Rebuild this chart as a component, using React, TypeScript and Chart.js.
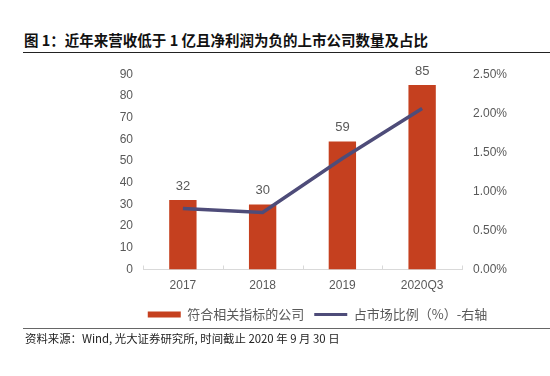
import React, { useEffect, useRef } from "react";
import { Chart, registerables } from "chart.js";

Chart.register(...registerables);

const categories = ["2017", "2018", "2019", "2020Q3"];
const companyCounts = [32, 30, 59, 85];
const marketShare = [0.78, 0.73, 1.42, 2.06];

const seriesNames = ["符合相关指标的公司", "占市场比例（%）-右轴"];
const titleText = "图 1：近年来营收低于 1 亿且净利润为负的上市公司数量及占比";
const sourceText = "资料来源：Wind, 光大证券研究所, 时间截止 2020 年 9 月 30 日";

const BAR_COLOR = "#C5401F";
const LINE_COLOR = "#4E4C79";
const TEXT_GRAY = "#595959";
const AXIS_GRAY = "#D9D9D9";
const FONT = '"Liberation Sans", Arial, "Noto Sans CJK SC", sans-serif';
const CJK_FONT = '"Noto Sans CJK SC", "Liberation Sans", sans-serif';

const dataLabelPlugin = {
  id: "dataLabels",
  afterDatasetsDraw(chart: any) {
    const meta = chart.getDatasetMeta(0);
    const ctx = chart.ctx;
    ctx.save();
    ctx.font = `13px ${FONT}`;
    ctx.fillStyle = TEXT_GRAY;
    ctx.textAlign = "center";
    ctx.textBaseline = "middle";
    meta.data.forEach((bar: any, i: number) => {
      ctx.fillText(String(companyCounts[i]), bar.x, bar.y - 14);
    });
    ctx.restore();
  },
};

const axisTickPlugin = {
  id: "axisTicks",
  afterDraw(chart: any) {
    const xs = chart.scales.x;
    const area = chart.chartArea;
    const ctx = chart.ctx;
    const centers = categories.map((_, i) => xs.getPixelForValue(i));
    const bounds = [area.left];
    for (let i = 0; i < centers.length - 1; i++) bounds.push((centers[i] + centers[i + 1]) / 2);
    bounds.push(area.right);
    ctx.save();
    ctx.strokeStyle = AXIS_GRAY;
    ctx.lineWidth = 1;
    bounds.forEach((bx) => {
      const x = Math.round(bx) + 0.5;
      ctx.beginPath();
      ctx.moveTo(x, area.bottom - 4);
      ctx.lineTo(x, area.bottom);
      ctx.stroke();
    });
    ctx.restore();
  },
};

function ChartCanvas() {
  const ref = useRef<HTMLCanvasElement | null>(null);
  useEffect(() => {
    if (!ref.current) return;
    const chart = new Chart(ref.current, {
      type: "bar",
      data: {
        labels: categories,
        datasets: [
          {
            type: "bar",
            label: seriesNames[0],
            data: companyCounts,
            backgroundColor: BAR_COLOR,
            borderWidth: 0,
            barPercentage: 0.343,
            categoryPercentage: 1,
            yAxisID: "y",
            order: 1,
          },
          {
            type: "line",
            label: seriesNames[1],
            data: marketShare,
            borderColor: LINE_COLOR,
            backgroundColor: LINE_COLOR,
            borderWidth: 3.5,
            pointRadius: 0,
            tension: 0,
            yAxisID: "y1",
            order: 0,
          } as any,
        ],
      },
      options: {
        responsive: false,
        animation: false,
        devicePixelRatio: 1,
        layout: { padding: { left: 85, right: 0, top: 15, bottom: 0 } },
        plugins: {
          tooltip: { enabled: false },
          legend: {
            position: "bottom",
            labels: {
              usePointStyle: true,
              pointStyleWidth: 33,
              boxWidth: 33,
              boxHeight: 6,
              padding: 10,
              color: TEXT_GRAY,
              font: { size: 13, family: CJK_FONT },
              generateLabels: () => [
                {
                  text: seriesNames[0],
                  fillStyle: BAR_COLOR,
                  strokeStyle: BAR_COLOR,
                  lineWidth: 0,
                  pointStyle: "rect",
                  datasetIndex: 0,
                  hidden: false,
                  fontColor: TEXT_GRAY,
                },
                {
                  text: seriesNames[1],
                  fillStyle: LINE_COLOR,
                  strokeStyle: LINE_COLOR,
                  lineWidth: 3,
                  pointStyle: "line",
                  datasetIndex: 1,
                  hidden: false,
                  fontColor: TEXT_GRAY,
                },
              ],
            },
          },
        },
        scales: {
          x: {
            offset: true,
            grid: { display: false, drawTicks: false },
            border: { display: true, color: AXIS_GRAY, width: 1 },
            ticks: { color: TEXT_GRAY, font: { size: 12, family: FONT }, padding: 9 },
            afterFit: (s: any) => {
              s.height = 28.5;
            },
          },
          y: {
            position: "left",
            min: 0,
            max: 90,
            grid: { display: false, drawTicks: false },
            border: { display: false },
            ticks: { stepSize: 10, color: TEXT_GRAY, font: { size: 12, family: FONT }, padding: 10 },
            afterFit: (s: any) => {
              s.width = 58;
            },
          },
          y1: {
            position: "right",
            min: 0,
            max: 2.5,
            grid: { display: false, drawTicks: false },
            border: { display: false },
            ticks: {
              stepSize: 0.5,
              color: TEXT_GRAY,
              font: { size: 12, family: FONT },
              padding: 11,
              callback: (v: any) => Number(v).toFixed(2) + "%",
            },
            afterFit: (s: any) => {
              s.width = 88;
            },
          },
        },
      } as any,
      plugins: [dataLabelPlugin, axisTickPlugin],
    });
    return () => chart.destroy();
  }, []);
  return (
    <canvas
      ref={ref}
      width={550}
      height={275}
      style={{ position: "absolute", left: 0, top: 56, width: 550, height: 275 }}
    />
  );
}

export default function App() {
  return (
    <div
      style={{
        position: "absolute",
        left: 0,
        top: 0,
        width: 550,
        height: 376,
        background: "#fff",
        overflow: "hidden",
      }}
    >
      <div
        style={{
          position: "absolute",
          left: 24,
          top: 30,
          fontFamily: CJK_FONT,
          fontWeight: "bold",
          fontSize: 14.5,
          lineHeight: "19px",
          color: "#111",
          whiteSpace: "nowrap",
        }}
      >
        {titleText}
      </div>
      <div style={{ position: "absolute", left: 23, top: 52, width: 527, height: 1, background: "#222" }} />
      <ChartCanvas />
      <div style={{ position: "absolute", left: 23, top: 327.5, width: 527, height: 1.5, background: "#666" }} />
      <div
        style={{
          position: "absolute",
          left: 25,
          top: 331,
          fontFamily: CJK_FONT,
          fontSize: 11.4,
          lineHeight: "14px",
          color: "#222",
          whiteSpace: "nowrap",
        }}
      >
        {sourceText}
      </div>
    </div>
  );
}
